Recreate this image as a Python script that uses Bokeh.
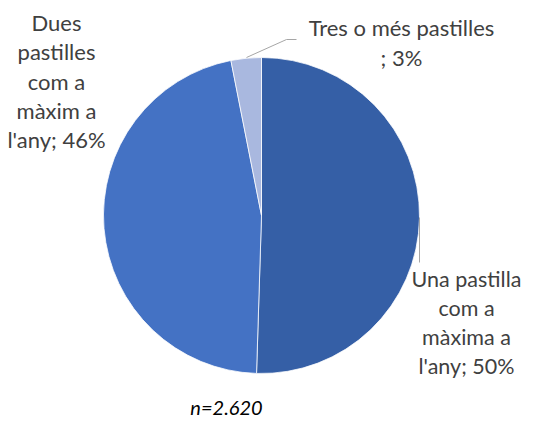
import math
from bokeh.plotting import figure
from bokeh.models import Range1d, ColumnDataSource
from bokeh.core.properties import value
from bokeh.embed import file_html
from bokeh.resources import INLINE

# ---- data ----
categories = ["Una pastilla com a màxima a l'any",
              "Dues pastilles com a màxim a l'any",
              "Tres o més pastilles"]
values = [50.5, 46.4, 3.1]
pct_labels = ["50%", "46%", "3%"]
label_lines = [["Una pastilla", "com a", "màxima a", "l'any; " + pct_labels[0]],
               ["Dues", "pastilles", "com a", "màxim a", "l'any; " + pct_labels[1]],
               ["Tres o més pastilles", "; " + pct_labels[2]]]
colors = ["#355FA6", "#4472C4", "#A9B8DF"]
note = "n=2.620"

# ---- layout ----
W, H = 521, 418
DX = -4
def X(xr): return xr + DX
def Y(yr): return H - yr

p = figure(width=W, height=H, x_range=Range1d(0, W), y_range=Range1d(0, H),
           output_backend="svg", toolbar_location=None, min_border=0)
p.axis.visible = False
p.grid.visible = False
p.outline_line_color = None
p.background_fill_color = "white"
p.border_fill_color = "white"

cx, cy, r = X(265), Y(215), 158
total = sum(values)
starts, ends = [], []
acc = 0.0
for v in values:
    starts.append(math.pi / 2 - 2 * math.pi * acc / total)
    acc += v
    ends.append(math.pi / 2 - 2 * math.pi * acc / total)

src = ColumnDataSource(dict(start=starts, end=ends, color=colors, cat=categories))
p.wedge(x=cx, y=cy, radius=r, start_angle="start", end_angle="end",
        direction="clock", fill_color="color", line_color="white",
        line_width=0.75, source=src)

# leader lines
p.line([X(250), X(290), X(300)], [Y(57), Y(39), Y(39)], line_color="#A6A6A6", line_width=1)
p.line([X(423), X(423)], [Y(217), Y(262)], line_color="#A6A6A6", line_width=1)

# labels
label_specs = [((470, 322), "21.5px"), ((60, 80.5), "22px"), ((405, 42), "22px")]
lh = 29.3
for lines, ((xc, yc), fs) in zip(label_lines, label_specs):
    n = len(lines)
    tx = [X(xc)] * n
    ty = [Y(yc + (i - (n - 1) / 2) * lh) for i in range(n)]
    p.text(x=tx, y=ty, text=lines, text_font=value("Lato"), text_font_size=fs,
           text_color="#404040", text_align="center", text_baseline="middle")

p.text(x=[X(230)], y=[Y(406)], text=[note], text_font=value("Lato"),
       text_font_size="20px", text_font_style="italic", text_color="#000000",
       text_align="center", text_baseline="middle")

open("out.html", "w").write(file_html(p, INLINE))
